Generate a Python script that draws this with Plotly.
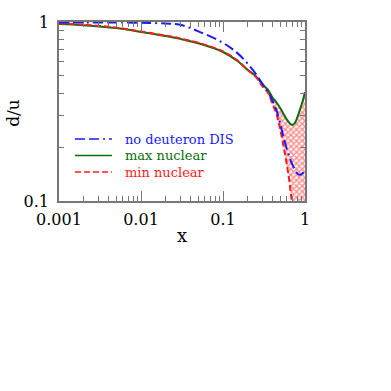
import plotly.graph_objects as go

# x grid for the curves
x_vals = [0.001, 0.002, 0.005, 0.01, 0.02, 0.03, 0.05, 0.1, 0.15, 0.2, 0.25, 0.3,
          0.35, 0.4, 0.45, 0.5, 0.55, 0.6, 0.65, 0.7, 0.75, 0.8, 0.85, 0.9, 0.95, 1.0]

no_deuteron = [0.995, 0.995, 0.993, 0.99, 0.98, 0.965, 0.887, 0.765, 0.67, 0.585, 0.515, 0.455,
               0.41, 0.365, 0.32, 0.27, 0.225, 0.195, 0.175, 0.16, 0.15, 0.143, 0.14, 0.141, 0.144, 0.146]

max_nuclear = [0.975, 0.96, 0.925, 0.88, 0.835, 0.805, 0.76, 0.68, 0.605, 0.54, 0.5, 0.45,
               0.42, 0.38, 0.355, 0.33, 0.305, 0.285, 0.272, 0.266, 0.272, 0.29, 0.315, 0.34, 0.37, 0.405]

# min nuclear drops below the axis near x ~ 0.7
x_min = [0.001, 0.002, 0.005, 0.01, 0.02, 0.03, 0.05, 0.1, 0.15, 0.2, 0.25, 0.3,
         0.35, 0.4, 0.45, 0.5, 0.55, 0.6, 0.65, 0.7, 0.72, 0.74]
min_nuclear = [0.98, 0.965, 0.93, 0.885, 0.84, 0.81, 0.765, 0.685, 0.61, 0.54, 0.495, 0.44,
               0.405, 0.35, 0.305, 0.25, 0.2, 0.16, 0.125, 0.09, 0.05, 0.02]

x_ticks = [0.001, 0.01, 0.1, 1]
x_tick_text = ["0.001", "0.01", "0.1", "1"]
y_ticks = [0.1, 1]
y_tick_text = ["0.1", "1"]

legend_names = ["no deuteron DIS", "max nuclear", "min nuclear"]

FONT = "DejaVu Serif"
BLUE = "#1a1aff"
GREEN = "#0a6e0a"
RED = "#ff1a1a"
BLUE_DASH = "10px,4px,10px,4px,2px,4px"
RED_DASH = "6px,3px"

fig = go.Figure()

# hatched band between max and min nuclear at large x
i0 = x_vals.index(0.3)
j0 = x_min.index(0.3)
band_x = x_vals[i0:] + [1.0] + x_min[j0:][::-1]
band_y = max_nuclear[i0:] + [0.02] + min_nuclear[j0:][::-1]
fig.add_scatter(
    x=band_x, y=band_y, mode="lines", fill="toself",
    line=dict(width=0, color="rgba(0,0,0,0)"),
    fillcolor="rgba(255,255,255,0)",
    fillpattern=dict(shape="x", fgcolor=RED, bgcolor="rgba(255,255,255,0)",
                     size=4, solidity=0.6),
    showlegend=False, hoverinfo="skip",
)

fig.add_scatter(x=x_vals, y=max_nuclear, mode="lines", line_shape="spline",
                line=dict(color=GREEN, width=2), name=legend_names[1], showlegend=False)
fig.add_scatter(x=x_min, y=min_nuclear, mode="lines", line_shape="spline",
                line=dict(color=RED, width=2, dash=RED_DASH), name=legend_names[2], showlegend=False)
fig.add_scatter(x=x_vals, y=no_deuteron, mode="lines", line_shape="spline",
                line=dict(color=BLUE, width=2, dash=BLUE_DASH), name=legend_names[0], showlegend=False)

# legend drawn by hand to get the tight row spacing of the original
legend_rows = [0.346, 0.254, 0.162]
for name, color, dash, yrow in zip(legend_names, [BLUE, GREEN, RED], [BLUE_DASH, "solid", RED_DASH], legend_rows):
    fig.add_shape(type="line", xref="paper", yref="paper", x0=0.065, x1=0.215, y0=yrow, y1=yrow,
                  line=dict(color=color, width=1.5, dash=dash))
    fig.add_annotation(text=name, xref="paper", yref="paper", x=0.26, y=yrow,
                       xanchor="left", yanchor="middle", showarrow=False,
                       font=dict(family=FONT, size=13, color=color))

minor_x = [m * 10 ** e for e in (-3, -2, -1) for m in range(2, 10)]
minor_y = [m * 0.1 for m in range(2, 10)]

axis_common = dict(
    type="log", showgrid=False, zeroline=False,
    showline=True, linecolor="#777", linewidth=1.5, mirror="allticks",
    ticks="inside", ticklen=10, tickcolor="#777", tickwidth=1,
    tickfont=dict(family=FONT, size=16, color="black"),
)

fig.update_xaxes(
    **axis_common, range=[-3, 0], tickmode="array", tickvals=x_ticks, ticktext=x_tick_text,
    ticklabelstandoff=3,
    minor=dict(tickmode="array", tickvals=minor_x, ticks="inside", ticklen=5,
               tickcolor="#777", showgrid=False),
)
fig.update_yaxes(
    **axis_common, range=[-1, 0], tickmode="array", tickvals=y_ticks, ticktext=y_tick_text,
    ticklabelstandoff=5,
    minor=dict(tickmode="array", tickvals=minor_y, ticks="inside", ticklen=5,
               tickcolor="#777", showgrid=False),
)

fig.add_annotation(text="x", xref="paper", yref="paper", x=0.499, y=-0.194,
                   xanchor="center", yanchor="middle",
                   showarrow=False, font=dict(family=FONT, size=18, color="black"))
fig.add_annotation(text="d/u", xref="paper", yref="paper", x=-0.19, y=0.494, textangle=-90,
                   xanchor="center", yanchor="middle",
                   showarrow=False, font=dict(family=FONT, size=17, color="black"))

fig.update_layout(
    width=391, height=391,
    margin=dict(l=59, r=86, t=22, b=190),
    paper_bgcolor="white", plot_bgcolor="white",
    font=dict(family=FONT, size=13),
    showlegend=False,
)

# drop the default page margin so the figure sits at the window's corner
fig.write_html("out.html", config={"displayModeBar": False},
               post_script="document.body.style.margin = '0';")
